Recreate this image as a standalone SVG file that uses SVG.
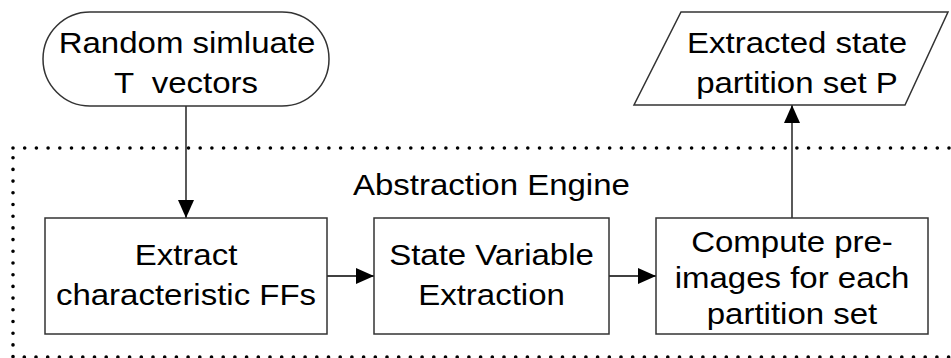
<svg xmlns="http://www.w3.org/2000/svg" width="951" height="358" viewBox="0 0 951 358">
  <style>
    .shape { fill: #ffffff; stroke: #333333; stroke-width: 1.5; }
    .frame { fill: none; stroke: #000000; stroke-width: 3.6; stroke-linecap: round; stroke-dasharray: 0 11.7; }
    .wire { fill: none; stroke: #000000; stroke-width: 1.3; }
    .label { font-family: "Liberation Sans", Arial, sans-serif; font-size: 30px; fill: #000000; text-anchor: middle; white-space: pre; }
  </style>
  <defs>
    <marker id="arrow" viewBox="0 0 18 16" refX="18" refY="8" markerWidth="18" markerHeight="16" markerUnits="userSpaceOnUse" orient="auto">
      <path d="M0,0 L18,8 L0,16 Z" fill="#000000"/>
    </marker>
  </defs>

  <rect width="951" height="358" fill="#ffffff"/>

  <!-- engine boundary -->
  <g id="engine">
    <rect class="frame" x="13" y="148" width="960" height="209"/>
    <text class="label" style="text-anchor:start" transform="translate(353 195) scale(1.1 1)">Abstraction Engine</text>
  </g>

  <g id="connectors">
    <line class="wire" x1="186" y1="106" x2="186" y2="218" marker-end="url(#arrow)"/>
    <line class="wire" x1="327" y1="276" x2="374" y2="276" marker-end="url(#arrow)"/>
    <line class="wire" x1="609" y1="276" x2="656" y2="276" marker-end="url(#arrow)"/>
    <line class="wire" x1="792" y1="218" x2="792" y2="105" marker-end="url(#arrow)"/>
  </g>

  <g id="start">
    <rect class="shape" x="43" y="12" width="286" height="94" rx="47" ry="47"/>
    <text class="label" transform="translate(187 53) scale(1.1 1)">Random simluate</text>
    <text class="label" transform="translate(186 93) scale(1.1 1)">T  vectors</text>
  </g>

  <g id="output">
    <polygon class="shape" points="681,12 948,12 905,105 634,105"/>
    <text class="label" transform="translate(797 53) scale(1.1 1)">Extracted state</text>
    <text class="label" transform="translate(797 93) scale(1.1 1)">partition set P</text>
  </g>

  <g id="extract-ffs">
    <rect class="shape" x="45" y="218" width="282" height="116"/>
    <text class="label" transform="translate(186 265) scale(1.1 1)">Extract</text>
    <text class="label" transform="translate(186 305) scale(1.1 1)">characteristic FFs</text>
  </g>

  <g id="state-var">
    <rect class="shape" x="374" y="218" width="235" height="116"/>
    <text class="label" transform="translate(491.5 265) scale(1.1 1)">State Variable</text>
    <text class="label" transform="translate(491.5 305) scale(1.1 1)">Extraction</text>
  </g>

  <g id="preimages">
    <rect class="shape" x="656" y="218" width="272" height="116"/>
    <text class="label" transform="translate(792 252) scale(1.1 1)">Compute pre-</text>
    <text class="label" transform="translate(792 288) scale(1.1 1)">images for each</text>
    <text class="label" transform="translate(792 324) scale(1.1 1)">partition set</text>
  </g>
</svg>
